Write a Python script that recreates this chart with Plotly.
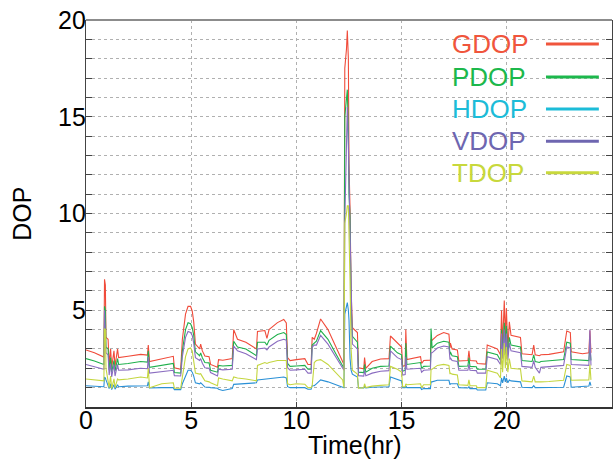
import plotly.graph_objects as go

# ---------------- data ----------------
time_hr = [0.00, 0.40, 0.85, 0.88, 0.92, 0.95, 1.05, 1.10, 1.17, 1.22, 1.33, 1.38, 1.50, 1.55,
           2.00, 2.60, 2.92, 2.96, 3.02, 3.60, 4.15, 4.20, 4.50, 4.58, 4.73, 4.85, 4.97, 5.05,
           5.12, 5.20, 5.40, 5.45, 5.53, 5.65, 5.85, 5.92, 6.25, 6.30, 6.50, 6.95, 7.02, 7.20,
           7.60, 8.10, 8.15, 8.50, 8.60, 8.70, 9.10, 9.40, 9.52, 9.58, 9.70, 10.00, 10.40, 10.55,
           10.70, 10.75, 10.85, 10.95, 11.15, 11.50, 11.90, 12.20, 12.26, 12.30, 12.38, 12.42,
           12.47, 12.50, 12.55, 12.60, 12.66, 12.90, 12.95, 13.20, 13.24, 13.30, 13.60, 14.00,
           14.40, 14.47, 14.80, 15.00, 15.05, 15.17, 15.20, 15.25, 15.90, 15.95, 16.05, 16.37,
           16.40, 16.45, 16.70, 17.00, 17.25, 17.30, 17.32, 17.40, 17.65, 17.72, 18.15, 18.20,
           18.25, 18.55, 18.60, 19.00, 19.07, 19.55, 19.70, 19.75, 19.80, 19.88, 19.93, 19.98,
           20.05, 20.12, 20.20, 20.65, 20.72, 21.20, 21.28, 21.35, 21.55, 21.62, 22.00, 22.70,
           22.85, 23.02, 23.06, 23.60, 23.90, 23.95, 24.00]

gdop = [2.95, 2.80, 2.58, 6.60, 6.30, 3.60, 3.50, 2.20, 3.00, 2.05, 2.90, 2.10, 3.00, 2.55,
        2.62, 2.72, 2.68, 3.20, 2.35, 2.50, 2.62, 2.02, 1.95, 3.50, 4.80, 5.20, 5.20, 4.95,
        4.40, 3.25, 3.00, 3.25, 2.90, 2.64, 2.60, 2.20, 2.05, 2.45, 2.42, 2.50, 4.00, 3.50,
        3.35, 3.00, 3.90, 3.95, 3.55, 4.00, 4.36, 4.52, 4.35, 2.55, 2.40, 2.45, 2.50, 2.20,
        2.20, 3.60, 3.50, 3.80, 4.55, 4.00, 3.05, 2.35, 2.20, 17.5, 18.5, 19.45,
        18.0, 12.5, 10.2, 6.00, 4.10, 3.85, 2.03, 1.97, 2.55, 2.00, 2.35, 2.48,
        2.50, 3.67, 3.30, 3.10, 2.10, 2.15, 4.00, 2.45, 2.60, 2.25, 2.40, 2.42,
        3.50, 3.45, 3.70, 3.85, 3.76, 3.05, 3.30, 3.00, 2.95, 2.38, 2.40, 2.90,
        2.40, 2.38, 2.25, 2.22, 3.20, 3.00, 2.70, 5.00, 3.20, 5.50, 3.60, 5.10,
        3.00, 4.40, 3.70, 3.60, 2.75, 2.70, 3.20, 2.70, 2.65, 2.70, 2.72, 2.85,
        3.93, 3.85, 2.85, 2.75, 2.80, 3.95, 2.80]

pdop = [2.50, 2.38, 2.20, 5.20, 5.00, 3.10, 3.00, 1.90, 2.55, 1.80, 2.40, 1.85, 2.50, 2.20,
        2.25, 2.35, 2.32, 2.90, 2.05, 2.15, 2.25, 1.78, 1.75, 2.90, 4.00, 4.35, 4.30, 4.10,
        3.70, 2.85, 2.65, 2.80, 2.55, 2.30, 2.28, 1.90, 1.80, 2.15, 2.12, 2.15, 3.40, 3.10,
        3.00, 2.65, 3.35, 3.35, 3.20, 3.45, 3.75, 3.85, 3.75, 2.25, 2.10, 2.12, 2.15, 1.95,
        1.95, 3.20, 3.30, 3.40, 3.95, 3.50, 2.70, 2.10, 2.00, 15.0, 16.0, 16.4,
        14.2, 11.0, 9.80, 5.30, 3.65, 3.35, 1.80, 1.78, 2.20, 1.80, 2.00, 2.10,
        2.12, 3.15, 2.80, 2.70, 1.85, 1.90, 3.30, 2.20, 2.30, 2.00, 2.10, 2.12,
        4.05, 3.05, 3.30, 3.40, 3.35, 2.70, 2.85, 2.65, 2.60, 2.10, 2.12, 2.55,
        2.10, 2.08, 1.95, 1.95, 2.85, 2.70, 2.40, 4.00, 2.70, 4.35, 3.00, 4.20,
        2.70, 3.60, 3.20, 3.10, 2.40, 2.35, 2.70, 2.35, 2.30, 2.35, 2.38, 2.45,
        3.35, 3.30, 2.45, 2.40, 2.40, 3.10, 2.40]

hdop = [1.10, 1.08, 1.05, 1.55, 1.50, 1.40, 1.10, 0.95, 1.20, 0.90, 1.15, 0.92, 1.15, 1.05,
        1.08, 1.10, 1.10, 1.30, 0.98, 1.00, 1.00, 0.90, 0.90, 1.20, 1.60, 1.90, 1.90, 1.80,
        1.60, 1.25, 1.20, 1.25, 1.17, 1.03, 1.02, 1.00, 0.97, 0.92, 0.85, 0.95, 1.17, 1.18,
        1.20, 1.25, 1.40, 1.45, 1.45, 1.45, 1.50, 1.55, 1.50, 1.05, 1.00, 1.00, 1.00, 0.92,
        0.92, 1.10, 1.10, 1.20, 1.40, 1.30, 1.15, 1.05, 1.00, 4.80, 5.20, 5.40,
        5.00, 4.50, 2.50, 1.90, 1.70, 1.55, 1.00, 0.98, 1.05, 0.98, 1.02, 1.05,
        1.05, 1.55, 1.43, 1.35, 1.00, 1.00, 1.10, 1.00, 1.00, 0.90, 0.95, 0.95,
        1.30, 1.30, 1.38, 1.40, 1.38, 1.15, 1.20, 1.20, 1.20, 1.00, 0.98, 1.05,
        0.95, 0.95, 0.88, 0.88, 1.25, 1.20, 1.10, 1.50, 1.25, 1.60, 1.30, 1.50,
        1.25, 1.40, 1.35, 1.30, 1.02, 1.00, 1.10, 1.00, 1.00, 1.00, 1.00, 1.02,
        1.60, 1.55, 1.02, 1.05, 1.08, 1.30, 1.10]

vdop = [2.20, 2.08, 1.95, 5.00, 4.00, 2.80, 2.70, 1.65, 2.25, 1.55, 2.20, 1.60, 2.20, 1.90,
        1.92, 2.00, 1.98, 2.60, 1.75, 1.82, 1.90, 1.62, 1.60, 2.60, 3.60, 3.90, 3.85, 3.70,
        3.30, 2.55, 2.40, 2.50, 2.26, 2.03, 2.00, 1.78, 1.60, 1.95, 1.92, 1.95, 3.15, 2.90,
        2.75, 2.45, 3.00, 3.05, 2.95, 3.10, 3.40, 3.50, 3.45, 2.03, 1.90, 1.92, 1.95, 1.75,
        1.75, 3.10, 3.20, 3.20, 3.70, 3.25, 2.50, 2.00, 1.90, 9.60, 13.0, 15.5,
        13.5, 11.0, 9.00, 6.50, 3.25, 3.00, 1.62, 1.60, 1.90, 1.62, 1.75, 1.85,
        1.88, 2.90, 2.55, 2.45, 1.65, 1.68, 2.60, 1.95, 2.00, 1.80, 1.90, 1.92,
        2.80, 2.80, 3.05, 3.15, 3.10, 2.45, 2.55, 2.40, 2.35, 1.90, 1.90, 2.20,
        1.90, 1.88, 1.75, 1.75, 2.60, 2.45, 2.20, 3.80, 2.50, 4.00, 2.70, 3.80,
        2.40, 3.30, 2.90, 2.80, 2.10, 2.05, 2.40, 2.05, 1.75, 2.05, 2.08, 2.15,
        3.10, 3.05, 2.20, 2.15, 2.15, 4.00, 2.15]

tdop = [1.45, 1.40, 1.35, 4.05, 4.00, 2.00, 1.20, 1.00, 1.60, 0.95, 1.45, 1.00, 1.45, 1.40,
        1.45, 1.55, 1.50, 2.00, 1.00, 1.20, 1.25, 0.97, 0.97, 1.60, 2.60, 3.00, 3.05, 2.90,
        2.30, 1.75, 1.70, 1.72, 1.57, 1.35, 1.30, 1.25, 1.10, 1.50, 1.45, 1.35, 1.55, 1.50,
        1.45, 1.35, 2.15, 2.30, 2.25, 2.30, 2.40, 2.42, 2.40, 1.20, 1.15, 1.20, 1.18, 1.00,
        1.00, 1.10, 2.30, 2.40, 2.45, 2.20, 1.75, 1.40, 1.00, 9.50, 10.0, 10.4,
        10.4, 8.00, 6.50, 3.00, 1.90, 1.70, 0.97, 1.00, 1.20, 1.00, 1.08, 1.12,
        1.15, 2.10, 1.95, 1.80, 1.05, 1.05, 1.20, 1.15, 1.20, 1.00, 1.15, 1.15,
        1.95, 1.95, 2.15, 2.20, 2.15, 1.70, 1.75, 1.70, 1.65, 1.15, 1.12, 1.40,
        1.10, 1.10, 1.00, 1.00, 1.90, 1.75, 1.50, 3.00, 1.80, 3.30, 2.00, 3.10,
        1.80, 2.50, 2.00, 1.95, 1.35, 1.30, 1.60, 1.30, 1.28, 1.30, 1.32, 1.38,
        2.20, 2.15, 1.38, 1.40, 1.40, 2.20, 1.40]

series_names = ["GDOP", "PDOP", "HDOP", "VDOP", "TDOP"]
series_values = [gdop, pdop, hdop, vdop, tdop]
line_colors = ["#f04b3a", "#1fb04c", "#2a90d6", "#8a6cc0", "#c4d640"]
legend_colors = ["#f0553c", "#1cb84c", "#1cbcd8", "#6e66b0", "#c8d83c"]

x_ticks = [0, 5, 10, 15, 20]
y_ticks = [5, 10, 15, 20]

FONT = "Liberation Sans, Arial, sans-serif"

fig = go.Figure()
for name, vals, col in zip(series_names, series_values, line_colors):
    fig.add_trace(go.Scatter(x=time_hr, y=vals, mode="lines", name=name,
                             line=dict(color=col, width=1.1), showlegend=False))

# custom legend: text on the left, line sample on the right
leg_y = [0.938, 0.853, 0.770, 0.687, 0.605]
for name, col, yy in zip(series_names, legend_colors, leg_y):
    fig.add_annotation(x=0.692, y=yy, xref="paper", yref="paper", text=name,
                       showarrow=False, xanchor="left", yanchor="middle",
                       font=dict(family=FONT, size=26, color=col))
    fig.add_shape(type="line", xref="paper", yref="paper", x0=0.8745, x1=0.975,
                  y0=yy, y1=yy, line=dict(color=col, width=3))

# top frame line (gray)
fig.add_shape(type="line", xref="paper", yref="paper", x0=0, x1=1, y0=1, y1=1,
              line=dict(color="#8c8c8c", width=2))

fig.add_annotation(x=0.511, y=-0.137, xref="paper", yref="paper", text="Time(hr)",
                   showarrow=False, xanchor="center", yanchor="bottom", borderpad=0,
                   font=dict(family=FONT, size=25, color="black"))
fig.add_annotation(x=-0.123, y=0.5, xref="paper", yref="paper", text="DOP",
                   showarrow=False, xanchor="center", yanchor="middle", textangle=-90,
                   font=dict(family=FONT, size=25, color="black"))

fig.update_layout(
    width=613, height=461,
    margin=dict(l=86, r=1, t=20, b=54),
    paper_bgcolor="white", plot_bgcolor="white",
    font=dict(family=FONT, size=25, color="black"),
    xaxis=dict(range=[0, 25], tickvals=x_ticks, ticktext=[str(v) for v in x_ticks],
               ticks="inside", ticklen=5, tickcolor="#444", ticklabelstandoff=-10,
               showline=True, linecolor="#333", linewidth=1.5, mirror=False,
               showgrid=True, gridcolor="#b0b0b0", griddash="dot", gridwidth=1,
               zeroline=False, tickfont=dict(family=FONT, size=25, color="black")),
    yaxis=dict(range=[0, 20], tickvals=y_ticks, ticktext=[str(v) for v in y_ticks],
               ticks="inside", ticklen=6, tickcolor="#444", ticklabelstandoff=-6,
               ticklabeloverflow="allow",
               showline=True, linecolor="#444", linewidth=1.2, mirror="ticks",
               showgrid=True, gridcolor="#b0b0b0", griddash="dot", gridwidth=1,
               minor=dict(dtick=1, ticks="inside", ticklen=6, tickcolor="#444",
                          showgrid=True, gridcolor="#b0b0b0", griddash="dot", gridwidth=1),
               zeroline=False, tickfont=dict(family=FONT, size=25, color="black")),
)

# remove the default 8px page margin so the figure fills the window exactly
fig.write_html("out.html", config={"displayModeBar": False},
               post_script="document.body.style.margin='0px';")
